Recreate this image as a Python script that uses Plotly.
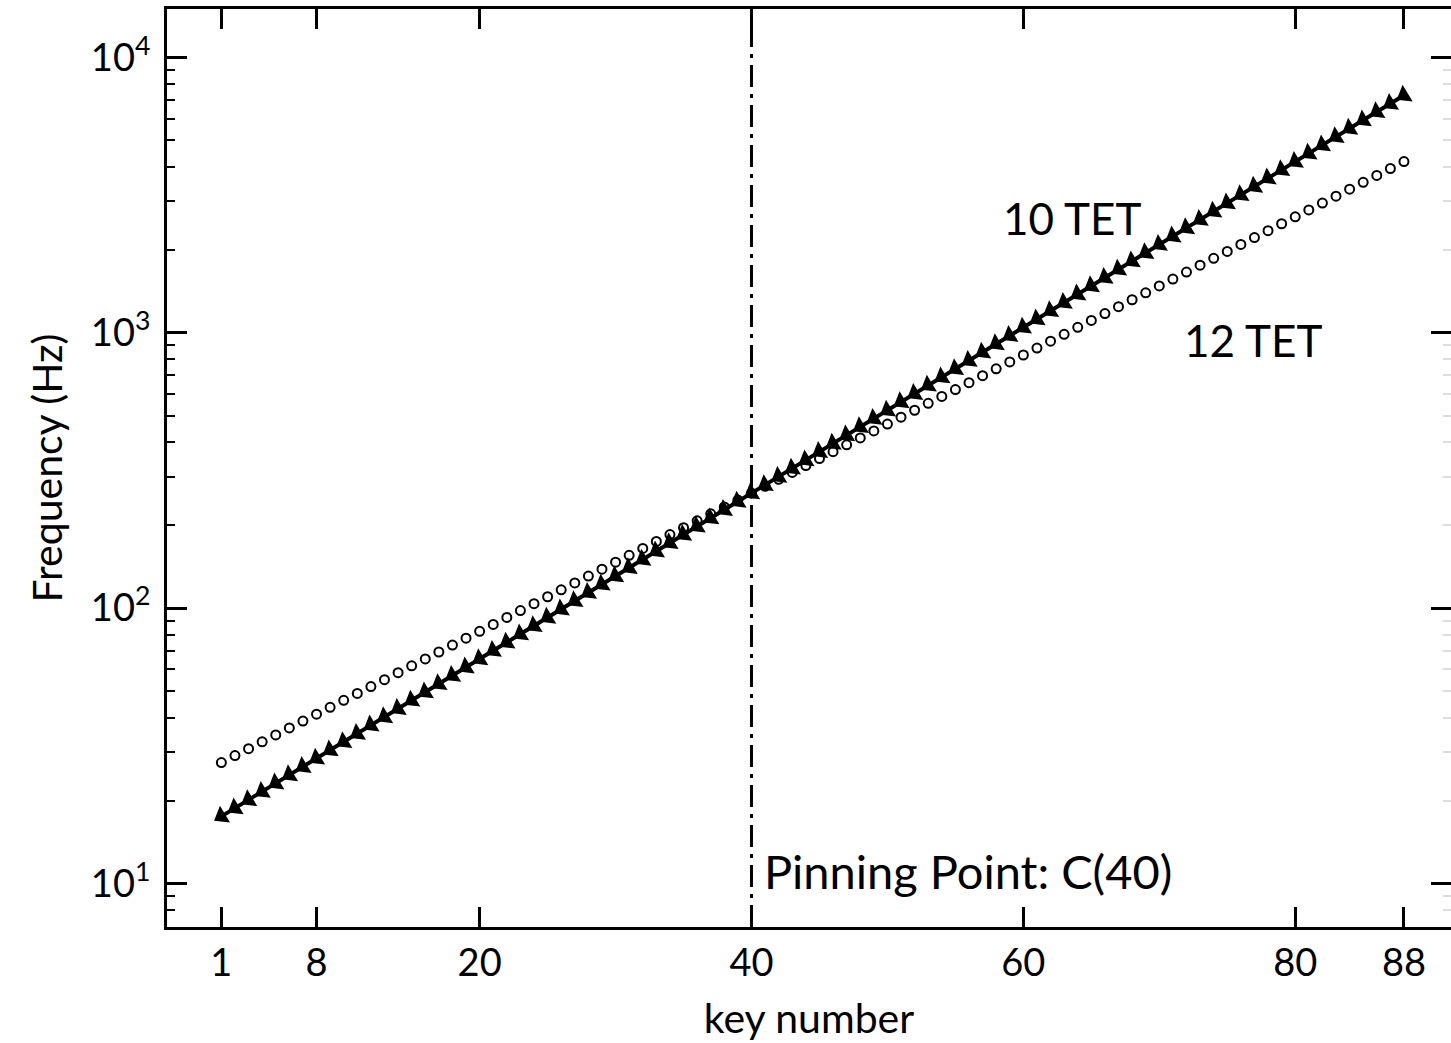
import plotly.graph_objects as go

keys = list(range(1, 89))

freq_12tet = [
    27.50, 29.14, 30.87, 32.70, 34.65, 36.71, 38.89, 41.20, 43.65, 46.25,
    49.00, 51.91, 55.00, 58.27, 61.74, 65.41, 69.30, 73.42, 77.78, 82.41,
    87.31, 92.50, 98.00, 103.83, 110.00, 116.54, 123.47, 130.81, 138.59, 146.83,
    155.56, 164.81, 174.61, 185.00, 196.00, 207.65, 220.00, 233.08, 246.94, 261.63,
    277.18, 293.66, 311.13, 329.63, 349.23, 369.99, 392.00, 415.30, 440.00, 466.16,
    493.88, 523.25, 554.37, 587.33, 622.25, 659.26, 698.46, 739.99, 783.99, 830.61,
    880.00, 932.33, 987.77, 1046.50, 1108.73, 1174.66, 1244.51, 1318.51, 1396.91, 1479.98,
    1567.98, 1661.22, 1760.00, 1864.66, 1975.53, 2093.00, 2217.46, 2349.32, 2489.02, 2637.02,
    2793.83, 2959.96, 3135.96, 3322.44, 3520.00, 3729.31, 3951.07, 4186.01,
]

freq_10tet = [
    17.53, 18.78, 20.13, 21.58, 23.13, 24.79, 26.56, 28.47, 30.51, 32.70,
    35.05, 37.57, 40.26, 43.15, 46.25, 49.57, 53.13, 56.94, 61.03, 65.41,
    70.10, 75.13, 80.53, 86.31, 92.50, 99.14, 106.26, 113.88, 122.06, 130.82,
    140.20, 150.27, 161.05, 172.61, 185.00, 198.28, 212.51, 227.76, 244.11, 261.63,
    280.41, 300.53, 322.10, 345.22, 370.00, 396.56, 425.02, 455.53, 488.22, 523.26,
    560.82, 601.07, 644.21, 690.44, 740.00, 793.11, 850.04, 911.05, 976.44, 1046.52,
    1121.64, 1202.14, 1288.42, 1380.88, 1480.00, 1586.24, 1700.08, 1822.12, 1952.88, 2093.04,
    2243.28, 2404.24, 2576.80, 2761.76, 2960.00, 3172.48, 3400.16, 3644.24, 3905.76, 4186.08,
    4486.56, 4808.48, 5153.60, 5523.52, 5920.00, 6344.96, 6800.32, 7288.48,
]

x_ticks = [1, 8, 20, 40, 60, 80, 88]
y_ticks = [10, 100, 1000, 10000]
y_ticktext = ["10<sup>1</sup>", "10<sup>2</sup>", "10<sup>3</sup>", "10<sup>4</sup>"]
y_minor = [7, 8, 9] + [m * d for d in (10, 100, 1000) for m in range(2, 10)]
pin_key = 40

FONT = "Lato"

fig = go.Figure()

fig.add_trace(go.Scatter(
    x=keys, y=freq_12tet, mode="markers", name="12 TET",
    marker=dict(symbol="circle-open", size=9, color="black", line=dict(width=2, color="black")),
    showlegend=False,
))

fig.add_trace(go.Scatter(
    x=keys, y=freq_10tet, mode="lines+markers", name="10 TET",
    line=dict(color="black", width=4),
    marker=dict(symbol="triangle-left", size=17, angle=-31, color="black"),
    showlegend=False,
))

fig.add_trace(go.Scatter(
    x=keys, y=freq_10tet, mode="markers", name="10 TET tip",
    marker=dict(symbol="triangle-up", size=8, color="black"),
    showlegend=False, yaxis="y2", hoverinfo="skip",
))

fig.add_shape(type="line", x0=pin_key, x1=pin_key, y0=0, y1=1, xref="x", yref="paper",
              line=dict(color="black", width=3, dash="22px,7px,4px,7px"))

fig.add_annotation(x=63.6, y=3.4175, xref="x", yref="y", text="10 TET", showarrow=False,
                   font=dict(family=FONT, size=44, color="black"))
fig.add_annotation(x=76.9, y=2.974, xref="x", yref="y", text="12 TET", showarrow=False,
                   font=dict(family=FONT, size=44, color="black"))
fig.add_annotation(x=40.8, y=1.045, xref="x", yref="y", text="Pinning Point: C(40)",
                   showarrow=False, xanchor="left",
                   font=dict(family=FONT, size=47, color="black"))

yrange = [0.842, 4.176]

fig.update_layout(
    width=1451, height=1043,
    margin=dict(l=167, r=0, t=9, b=116),
    paper_bgcolor="white", plot_bgcolor="white",
    font=dict(family=FONT, color="black", size=38),
    xaxis=dict(
        range=[-3.0, 91.46], tickvals=x_ticks, ticktext=[str(v) for v in x_ticks],
        ticks="inside", ticklen=20, tickwidth=3, tickcolor="black",
        showline=True, linewidth=3, linecolor="black", mirror="ticks",
        showgrid=False, zeroline=False,
        tickfont=dict(family=FONT, size=38),
        title=dict(text="key number", font=dict(family=FONT, size=41), standoff=22),
    ),
    yaxis=dict(
        type="log", range=yrange, tickvals=y_ticks, ticktext=y_ticktext,
        ticks="inside", ticklen=20, tickwidth=3, tickcolor="black",
        showline=True, linewidth=3, linecolor="black",
        showgrid=False, zeroline=False, ticklabelstandoff=6,
        minor=dict(tickvals=y_minor, ticks="inside", ticklen=8, tickwidth=2,
                   tickcolor="black", showgrid=False),
        tickfont=dict(family=FONT, size=38),
        title=dict(text="Frequency (Hz)", font=dict(family=FONT, size=41), standoff=16),
    ),
    yaxis2=dict(
        type="log", range=yrange, tickvals=y_ticks, overlaying="y", side="right",
        ticks="inside", ticklen=20, tickwidth=3, tickcolor="black",
        showline=False, showgrid=False, zeroline=False, showticklabels=False,
        minor=dict(tickvals=y_minor, ticks="inside", ticklen=8, tickwidth=2,
                   tickcolor="#dddddd", showgrid=False),
    ),
)

fig.write_html("out.html")
